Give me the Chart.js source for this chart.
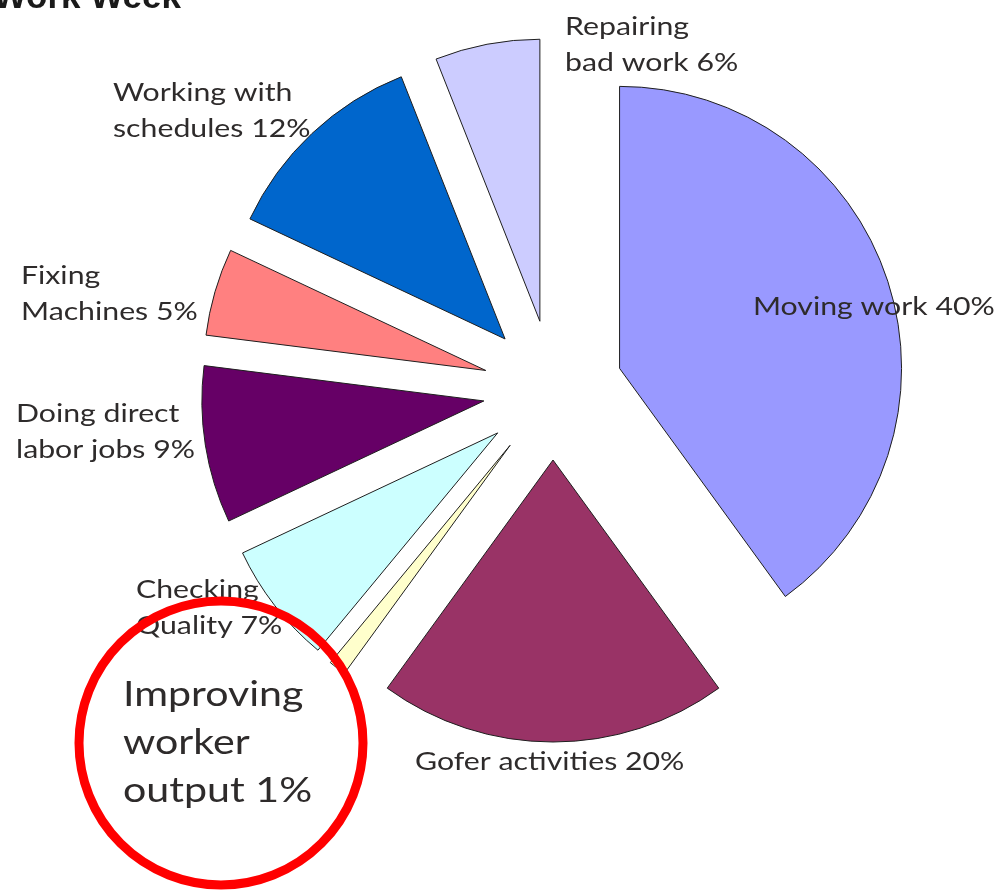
<!DOCTYPE html>
<html>
<head>
<meta charset="utf-8">
<script src="https://cdn.jsdelivr.net/npm/chart.js@4.4.1/dist/chart.umd.min.js"></script>
<style>
  html, body { margin: 0; padding: 0; background: #fff; }
  #wrap { width: 1003px; height: 890px; }
</style>
</head>
<body>
<div id="wrap"><canvas id="workPie" width="1003" height="890"></canvas></div>
<script>
// data, clockwise from 12 o'clock
const categories = [
  'Moving work',
  'Gofer activities',
  'Improving\nworker\noutput',
  'Checking\nQuality',
  'Doing direct\nlabor jobs',
  'Fixing\nMachines',
  'Working with\nschedules',
  'Repairing\nbad work',
];
const shares = [40, 20, 1, 7, 9, 5, 12, 6];
const sliceColors = ['#9999ff', '#993366', '#ffffcc', '#ccffff', '#660066', '#ff8080', '#0066cc', '#ccccff'];
const chartTitle = 'Work Week';

// layout of the picture
const EXPLODE = 70;          // how far every slice is pulled out
const PIE_RADIUS = 282;
const labelAt = [             // left x, first baseline y, font px
  [753, 315, 25],
  [415, 770, 25],
  [123, 706, 34],
  [136, 598, 25],
  [16, 422, 25],
  [21, 284, 25],
  [113, 101, 25],
  [565, 35, 25],
];
const LABEL_FONT = 'Lato, "Open Sans", sans-serif';
const LABEL_STRETCH = 1.21;   // the original face is wider than Lato

(function () {
  const ctx = document.getElementById('workPie');

  // pull each arc out along its middle angle, same distance for all
  const explodePlugin = {
    id: 'explode',
    afterDatasetUpdate(chart, args) {
      args.meta.data.forEach((arc) => {
        const mid = (arc.startAngle + arc.endAngle) / 2;
        arc.x += Math.cos(mid) * EXPLODE;
        arc.y += Math.sin(mid) * EXPLODE;
      });
    },
  };

  const labelPlugin = {
    id: 'sliceLabels',
    afterDraw(chart) {
      const c = chart.ctx;
      c.save();

      // title, cut by the top edge
      c.font = 'bold 35px "Liberation Sans", Arial, sans-serif';
      c.fillStyle = '#1a1a1a';
      c.textAlign = 'right';
      c.textBaseline = 'alphabetic';
      c.fillText(chartTitle, 181, 8);

      c.textAlign = 'left';
      c.fillStyle = '#2e2b2b';
      categories.forEach((name, i) => {
        const [x, y, size] = labelAt[i];
        const lines = name.split('\n');
        lines[lines.length - 1] += ' ' + shares[i] + '%';
        c.font = size + 'px ' + LABEL_FONT;
        const lh = Math.round(size * 1.42);
        lines.forEach((line, j) => {
          c.save();
          c.translate(x, y + j * lh);
          c.scale(LABEL_STRETCH, 1);
          c.fillText(line, 0, 0);
          c.restore();
        });
      });

      // red ring round the 1% label
      c.beginPath();
      c.strokeStyle = '#ff0000';
      c.lineWidth = 9;
      c.arc(221, 743, 142, 0, Math.PI * 2);
      c.stroke();

      c.restore();
    },
  };

  new Chart(ctx, {
    type: 'pie',
    data: {
      labels: categories.map((n) => n.replace(/\n/g, ' ')),
      datasets: [
        {
          data: shares,
          backgroundColor: sliceColors,
          borderColor: '#1e1e1e',
          borderWidth: 1,
          radius: PIE_RADIUS,
        },
      ],
    },
    options: {
      responsive: false,
      animation: false,
      layout: { padding: { left: 103, right: 0, top: 0, bottom: 110 } },
      plugins: {
        legend: { display: false },
        title: { display: false },
        tooltip: { enabled: false },
      },
    },
    plugins: [explodePlugin, labelPlugin],
  });
})();
</script>
</body>
</html>
